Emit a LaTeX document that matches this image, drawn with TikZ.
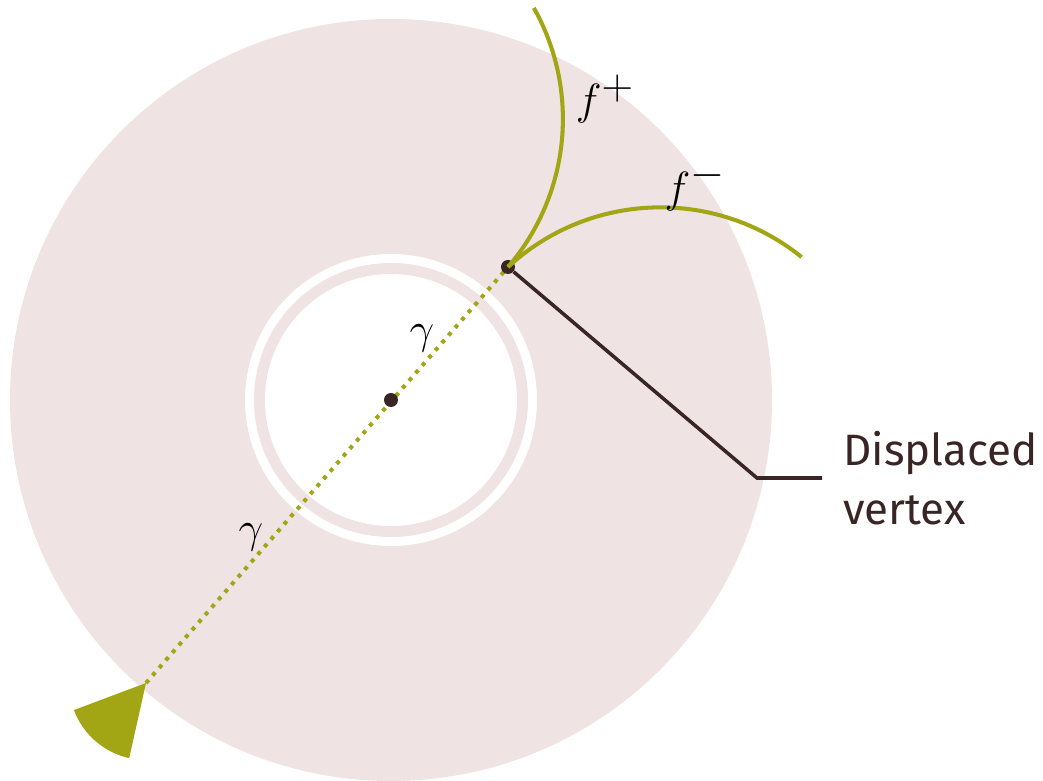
\documentclass[tikz,border=0pt]{standalone}
\usepackage{fontspec}
\setsansfont{Fira Sans}
\definecolor{diskpink}{RGB}{239,227,228}
\definecolor{olive}{RGB}{163,166,20}
\definecolor{darkbrown}{RGB}{58,37,37}
\usetikzlibrary{positioning,backgrounds}

\begin{document}
\begin{tikzpicture}[
    dot/.style={circle, fill=darkbrown, inner sep=0pt, minimum size=0.28cm},
    fcurve/.style={olive, line width=2.3pt},
    ray/.style={olive, line width=2.3pt, dash pattern=on 2.3pt off 3.4pt},
    lbl/.style={font=\fontsize{37}{44}\selectfont}]

\useasboundingbox (-7.82,-7.62) rectangle (13.04,8.0);

\node[dot] (c) at (0,0) {};
\node[dot] (v) at (2.34,2.66) {};
\coordinate (tip) at (-4.9,-5.66);

\begin{scope}[on background layer]
% disk with the cut-out ring
\fill[diskpink] (c) circle (7.62);
\fill[white] (c) circle (2.92);
\fill[diskpink] (c) circle (2.74);
\fill[white] (c) circle (2.52);
\draw[ray] (tip) -- (v.center);
\end{scope}

\fill[olive] (tip) -- ++(200.6:1.54) arc[start angle=200.6, end angle=257.4, radius=1.54] -- cycle;

% the two faces
\draw[fcurve] (v.center) arc[start angle=-40.7, end angle=29.3, radius=4.54];
\draw[fcurve] (v.center) arc[start angle=132.7, end angle=51.2, radius=4.5];

\node[lbl] (fp) at (4.28,6.02) {$f^+$};
\node[lbl] (fm) at (6.08,4.28) {$f^-$};
\node[lbl] (g1) at (0.62,1.24) {$\gamma$};
\node[lbl] (g2) at (-2.8,-2.74) {$\gamma$};

% label for the vertex
\coordinate (knee) at (7.32,-1.56);
\coordinate (lblend) at (8.62,-1.56);
\draw[darkbrown, line width=2pt] (v) -- (knee) -- (lblend);
\node[right=0.42cm of lblend, inner sep=0pt, align=left, text=darkbrown,
      font=\sffamily\fontsize{25}{33.5}\selectfont] (dv) {Displaced\\vertex};
\end{tikzpicture}
\end{document}
